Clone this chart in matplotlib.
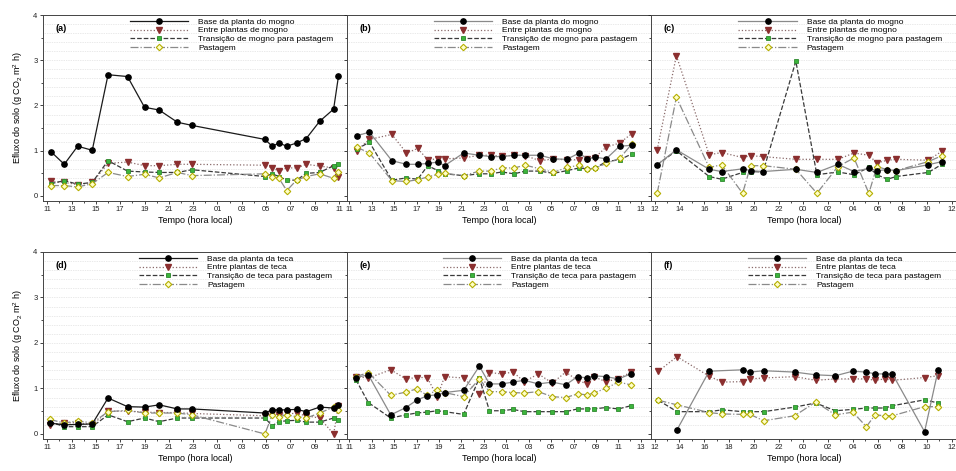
"""soil CO2 efflux, mogno (top) and teca (bottom) sites"""
import numpy as np
import matplotlib
matplotlib.use("Agg")
import matplotlib.pyplot as plt
from matplotlib.ticker import MultipleLocator, FixedLocator

plt.rcParams['font.family'] = ['Liberation Sans', 'DejaVu Sans']
plt.rcParams['mathtext.default'] = 'regular'

# hours are counted from the start day, 24 = midnight of day 2
a_hora = [11.3, 12.4, 13.5, 14.7, 16.0, 17.6, 19.0, 20.2, 21.7, 22.9, 28.9, 29.5,
          30.05, 30.7, 31.5, 32.3, 33.4, 34.55, 34.95]
a_base = [0.98, 0.70, 1.10, 1.01, 2.68, 2.64, 1.96, 1.90, 1.63, 1.56, 1.25, 1.10,
          1.17, 1.10, 1.17, 1.27, 1.65, 1.92, 2.65]
a_entre = [0.32, 0.30, 0.25, 0.30, 0.72, 0.75, 0.67, 0.67, 0.70, 0.70, 0.68, 0.62,
           0.55, 0.62, 0.62, 0.70, 0.66, 0.62, 0.43]
a_trans = [0.27, 0.34, 0.26, 0.30, 0.78, 0.55, 0.53, 0.52, 0.52, 0.58, 0.43, 0.49,
           0.43, 0.35, 0.35, 0.50, 0.52, 0.67, 0.70]
a_past = [0.23, 0.23, 0.20, 0.27, 0.52, 0.43, 0.48, 0.40, 0.52, 0.45, 0.49, 0.43,
          0.39, 0.12, 0.35, 0.43, 0.49, 0.39, 0.52]

b_hora = [11.65, 12.8, 14.8, 16.1, 17.1, 18.0, 18.9, 19.5, 21.2, 22.6, 23.6, 24.6,
          25.7, 26.7, 28.0, 29.2, 30.4, 31.5, 32.2, 32.9, 33.9, 35.1, 36.2]
b_base = [1.33, 1.41, 0.78, 0.70, 0.70, 0.72, 0.75, 0.67, 0.95, 0.90, 0.87, 0.87,
          0.90, 0.90, 0.90, 0.82, 0.81, 0.95, 0.82, 0.86, 0.82, 1.10, 1.12]
b_entre = [1.00, 1.25, 1.36, 0.95, 1.05, 0.80, 0.82, 0.82, 0.84, 0.90, 0.90, 0.88,
           0.90, 0.89, 0.78, 0.82, 0.80, 0.80, 0.82, 0.85, 1.08, 1.17, 1.38]
b_trans = [1.03, 1.19, 0.35, 0.40, 0.37, 0.67, 0.56, 0.49, 0.45, 0.49, 0.49, 0.53,
           0.49, 0.55, 0.55, 0.50, 0.56, 0.62, 0.60, 0.61, 0.76, 0.80, 0.93]
b_past = [1.08, 0.95, 0.34, 0.32, 0.36, 0.42, 0.48, 0.50, 0.45, 0.55, 0.55, 0.62,
          0.62, 0.68, 0.60, 0.52, 0.63, 0.68, 0.60, 0.61, 0.72, 0.83, 1.15]

c_hora = [12.2, 13.75, 16.4, 17.4, 19.1, 19.75, 20.75, 23.4, 25.1, 26.8, 28.1, 29.3,
          29.95, 30.8, 31.5, 34.1, 35.2]
c_base = [0.69, 1.02, 0.59, 0.54, 0.60, 0.56, 0.54, 0.59, 0.52, 0.70, 0.54, 0.61,
          0.56, 0.58, 0.56, 0.69, 0.76]
c_entre = [1.02, 3.10, 0.91, 0.96, 0.85, 0.89, 0.87, 0.81, 0.81, 0.81, 0.95, 0.90,
           0.73, 0.79, 0.81, 0.79, 0.99]
c_trans = [0.69, 1.00, 0.43, 0.37, 0.52, 0.54, 0.53, 2.98, 0.47, 0.53, 0.47, 0.63,
           0.47, 0.37, 0.43, 0.52, 0.70]
c_past = [0.06, 2.18, 0.63, 0.69, 0.06, 0.67, 0.67, 0.59, 0.06, 0.65, 0.84, 0.06,
          0.65, 0.58, 0.56, 0.76, 0.89]

d_hora = [11.2, 12.4, 13.5, 14.7, 16.0, 17.6, 19.0, 20.2, 21.7, 22.9, 28.9, 29.5,
          30.05, 30.7, 31.5, 32.3, 33.4, 34.55, 34.95]
d_base = [0.24, 0.20, 0.21, 0.22, 0.79, 0.60, 0.59, 0.64, 0.55, 0.55, 0.46, 0.53,
          0.53, 0.53, 0.54, 0.49, 0.59, 0.57, 0.64]
d_entre = [0.20, 0.24, 0.25, 0.20, 0.50, 0.50, 0.48, 0.47, 0.47, 0.45, 0.40, 0.45,
           0.42, 0.45, 0.45, 0.40, 0.35, 0.00, 0.62]
d_trans = [0.27, 0.16, 0.16, 0.16, 0.42, 0.27, 0.35, 0.27, 0.35, 0.35, 0.35, 0.18,
           0.27, 0.29, 0.30, 0.26, 0.26, 0.35, 0.30]
d_past = [0.32, 0.24, 0.29, 0.24, 0.49, 0.52, 0.46, 0.46, 0.46, 0.42, 0.00, 0.42,
          0.38, 0.42, 0.38, 0.35, 0.46, 0.59, 0.52]

e_hora = [11.6, 12.7, 14.7, 16.05, 17.0, 17.95, 18.85, 19.5, 21.2, 22.6, 23.5, 24.6,
          25.6, 26.6, 27.85, 29.1, 30.3, 31.35, 32.2, 32.8, 33.85, 35.0, 36.1]
e_base = [1.24, 1.30, 0.42, 0.58, 0.74, 0.84, 0.86, 0.91, 0.96, 1.49, 1.10, 1.10,
          1.14, 1.18, 1.10, 1.14, 1.08, 1.26, 1.23, 1.28, 1.26, 1.21, 1.32]
e_entre = [1.26, 1.23, 1.41, 1.21, 1.24, 1.24, 0.82, 1.26, 1.23, 0.88, 1.35, 1.32,
           1.36, 1.15, 1.32, 1.12, 1.36, 1.18, 1.10, 1.26, 1.15, 1.21, 1.36]
e_trans = [1.19, 0.69, 0.35, 0.42, 0.46, 0.48, 0.51, 0.49, 0.43, 1.23, 0.51, 0.51,
           0.54, 0.49, 0.49, 0.49, 0.49, 0.55, 0.55, 0.55, 0.58, 0.55, 0.62]
e_past = [1.26, 1.35, 0.85, 0.92, 0.99, 0.85, 0.97, 0.91, 0.82, 1.21, 0.93, 0.93,
          0.91, 0.90, 0.93, 0.82, 0.80, 0.88, 0.86, 0.90, 1.00, 1.14, 1.08]

f_hora = [12.3, 13.8, 16.4, 17.45, 19.1, 19.7, 20.8, 23.3, 25.0, 26.6, 28.0, 29.1,
          29.8, 30.6, 31.2, 33.8, 34.9]
f_base = [np.nan, 0.09, 1.38, np.nan, 1.41, 1.36, 1.39, 1.36, 1.30, 1.28, 1.38, 1.36,
          1.32, 1.32, 1.32, 0.05, 1.41]
f_entre = [1.38, 1.70, 1.27, 1.14, 1.15, 1.21, 1.23, 1.26, 1.18, 1.21, 1.21, 1.21,
           1.18, 1.21, 1.18, 1.24, 1.28]
f_trans = [0.74, 0.49, 0.49, 0.53, 0.49, 0.49, 0.49, 0.59, 0.68, 0.51, 0.54, 0.57,
           0.57, 0.57, 0.62, 0.75, 0.68]
f_past = [0.74, 0.64, 0.47, 0.44, 0.43, 0.43, 0.29, 0.40, 0.70, 0.42, 0.48, 0.16,
          0.42, 0.40, 0.40, 0.60, 0.60]

mogno_labels = ['Base da planta do mogno', 'Entre plantas de mogno',
                'Transição de mogno para pastagem', 'Pastagem']
teca_labels = ['Base da planta da teca', 'Entre plantas de teca',
               'Transição de teca para pastagem', 'Pastagem']

# panel letter, data, x limits, first/last tick hour, legend labels, dark base line?
panels = [
    ('(a)', a_hora, a_base, a_entre, a_trans, a_past, (10.65, 35.65), 11, 35, mogno_labels, True),
    ('(b)', b_hora, b_base, b_entre, b_trans, b_past, (10.8, 37.9), 11, 37, mogno_labels, False),
    ('(c)', c_hora, c_base, c_entre, c_trans, c_past, (11.7, 36.5), 12, 36, mogno_labels, False),
    ('(d)', d_hora, d_base, d_entre, d_trans, d_past, (10.65, 35.65), 11, 35, teca_labels, True),
    ('(e)', e_hora, e_base, e_entre, e_trans, e_past, (10.8, 37.9), 11, 37, teca_labels, False),
    ('(f)', f_hora, f_base, f_entre, f_trans, f_past, (11.7, 36.5), 12, 36, teca_labels, False),
]

W, H = 956, 471
fig = plt.figure(figsize=(W / 100, H / 100), dpi=100)

lefts = [43, 347, 651]
widths = [304, 304, 307]
rows = [(15, 200.5), (252, 438.5)]

for i, (tag, hora, base, entre, trans, past, xl, t0, t1, labels, dark) in enumerate(panels):
    r, c = divmod(i, 3)
    top, bot = rows[r]
    ax = fig.add_axes([lefts[c] / W, 1 - bot / H, widths[c] / W, (bot - top) / H])

    hora = np.array(hora)
    base = np.array(base)
    ok = np.isfinite(base)

    base_col = '#1a1a1a' if dark else '#8a8a8a'
    ax.plot(hora[ok], base[ok], '-', color=base_col, lw=0.9, marker='o', ms=3.8,
            mfc='black', mec='black', label=labels[0], zorder=4)
    ax.plot(hora, entre, ':', color='#8a6a6a', lw=0.9, marker='v', ms=4,
            mfc='#8b2f2f', mec='#8b2f2f', label=labels[1], zorder=3)
    ax.plot(hora, trans, '--', color='#3a3a3a', lw=0.9, marker='s', ms=3.4,
            mfc='#3cb43c', mec='#2f8a2f', mew=0.6, label=labels[2], zorder=3)
    ax.plot(hora, past, '-.', color='#8a8a8a', lw=0.9, marker='D', ms=3.3,
            mfc='#ffffc8', mec='#b5ae00', mew=0.8, label=labels[3], zorder=3)

    ax.set_xlim(*xl)
    ax.set_ylim(-0.1, 4)
    ticks = list(range(t0, t1 + 1, 2))
    ax.xaxis.set_major_locator(FixedLocator(ticks))
    ax.set_xticklabels(['%02d' % (t % 24) for t in ticks])
    ax.xaxis.set_minor_locator(MultipleLocator(1))
    ax.yaxis.set_major_locator(MultipleLocator(1))
    ax.yaxis.set_minor_locator(MultipleLocator(0.5))
    ax.tick_params(which='major', direction='out', length=2.5, width=0.6,
                   labelsize=5.5, pad=1.5, colors='#222222')
    ax.tick_params(which='minor', direction='out', length=1.5, width=0.5)
    if c > 0:
        ax.tick_params(axis='y', labelleft=False)
    else:
        ax.set_ylabel('Efluxo do solo (g CO$_2$ m$^2$ h)', fontsize=6.5, labelpad=6)

    for yv in np.arange(0.2, 4.0, 0.2):
        ax.axhline(yv, color='#d4d4d4', lw=0.5, ls=(0, (1, 1.5)), zorder=0)

    for s in ax.spines.values():
        s.set_linewidth(0.7)
        s.set_color('#444444')

    ax.set_xlabel('Tempo (hora local)', fontsize=6.5, labelpad=2)
    ax.text(0.04, 0.925, tag, transform=ax.transAxes, fontsize=6.5,
            fontweight='bold', va='center')

    lx = 0.285 if r == 0 else 0.315
    ax.legend(loc='upper left', bbox_to_anchor=(lx, 0.985), frameon=False,
              fontsize=6, handlelength=7, handletextpad=1.2, labelspacing=0.12,
              borderpad=0, borderaxespad=0, numpoints=1)

fig.savefig('out.png', dpi=100)
